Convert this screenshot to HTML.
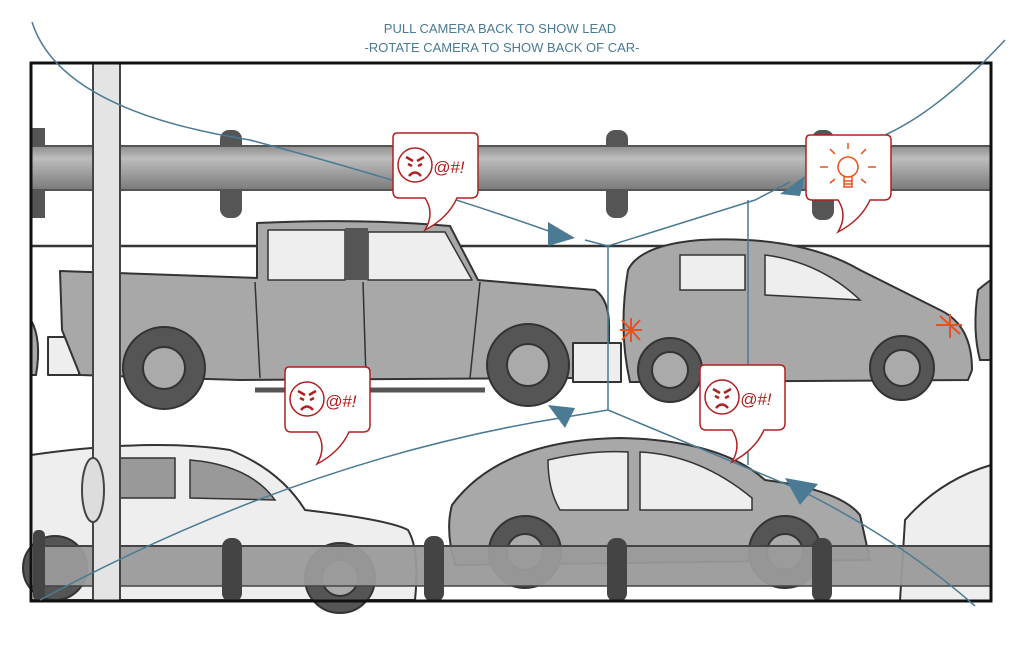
<!DOCTYPE html>
<html><head><meta charset="utf-8"><style>
html,body{margin:0;padding:0;background:#fff;width:1022px;height:662px;overflow:hidden}
svg{display:block}
</style></head><body>
<svg width="1022" height="662" viewBox="0 0 1022 662" xmlns="http://www.w3.org/2000/svg">
<defs>
<linearGradient id="rail" x1="0" y1="0" x2="0" y2="1">
<stop offset="0" stop-color="#8a8a8a"/><stop offset="0.3" stop-color="#bdbdbd"/><stop offset="0.6" stop-color="#a0a0a0"/><stop offset="1" stop-color="#7a7a7a"/>
</linearGradient>
<g id="bubble">
<path d="M4,0 H80 Q85,0 85,5 V58 Q85,65 78,65 H64 Q55,85 32,97 Q42,80 32,65 H6 Q0,65 0,58 V5 Q0,0 4,0 Z" fill="#fff" stroke="#b02020" stroke-width="1.5"/>
</g>
<g id="angry">
<use href="#bubble"/>
<circle cx="22" cy="32" r="17" fill="#fff" stroke="#b02020" stroke-width="1.5"/>
<path d="M13,24 L20,28 M31,24 L24,28" stroke="#b02020" stroke-width="2.5"/>
<path d="M15,31 L19,33 M29,31 L25,33" stroke="#b02020" stroke-width="2.5"/>
<path d="M16,43 Q22,36 28,43" stroke="#b02020" stroke-width="2.5" fill="none"/>
<text x="40" y="40" font-family="Liberation Sans, sans-serif" font-size="17" fill="#b02020" font-style="italic">@#!</text>
</g>
</defs>

<!-- top rail -->
<g>
<rect x="220" y="130" width="22" height="88" rx="9" fill="#555"/>
<rect x="606" y="130" width="22" height="88" rx="9" fill="#555"/>
<rect x="812" y="130" width="22" height="90" rx="9" fill="#555"/>
<rect x="31" y="128" width="14" height="90" fill="#555"/>
<rect x="31" y="145" width="960" height="45" fill="url(#rail)"/>
<line x1="31" y1="146" x2="991" y2="146" stroke="#555" stroke-width="2"/>
<line x1="31" y1="190" x2="991" y2="190" stroke="#555" stroke-width="2"/>
</g>

<!-- horizontal line -->
<line x1="31" y1="246" x2="991" y2="246" stroke="#333" stroke-width="2.5"/>

<!-- truck -->
<g stroke="#333" stroke-width="2" stroke-linejoin="round">
<rect x="48" y="337" width="31" height="38" fill="#eee"/>
<path d="M60,271 L257,278 L257,223 Q360,218 450,226 L478,280 L595,290 Q610,300 609,330 L609,372 L572,378 L240,380 L80,375 L62,330 Z" fill="#a8a8a8"/>
<path d="M268,230 H345 V280 H268 Z" fill="#eee" stroke-width="1.5"/>
<path d="M368,232 H445 L472,280 H368 Z" fill="#eee" stroke-width="1.5"/>
<rect x="345" y="228" width="23" height="52" fill="#555" stroke="none"/>
<path d="M363,282 L366,378 M255,282 L260,378 M480,282 L470,378" fill="none" stroke-width="1.5"/>
<rect x="573" y="343" width="48" height="39" fill="#eee"/>
<path d="M255,390 H485" stroke="#555" stroke-width="5"/>
<circle cx="164" cy="368" r="41" fill="#555"/>
<circle cx="164" cy="368" r="21" fill="#aaa"/>
<circle cx="528" cy="365" r="41" fill="#555"/>
<circle cx="528" cy="365" r="21" fill="#aaa"/>
</g>

<!-- small car right -->
<g stroke="#333" stroke-width="2">
<path d="M628,270 Q640,245 700,240 Q800,235 860,270 L940,310 Q972,325 972,370 L968,380 L630,382 Q618,330 628,270 Z" fill="#a8a8a8"/>
<path d="M680,255 H745 V290 H680 Z" fill="#eee" stroke-width="1.5"/>
<path d="M765,255 Q820,262 860,300 L765,295 Z" fill="#eee" stroke-width="1.5"/>
<circle cx="670" cy="370" r="32" fill="#555"/>
<circle cx="670" cy="370" r="18" fill="#aaa"/>
<circle cx="902" cy="368" r="32" fill="#555"/>
<circle cx="902" cy="368" r="18" fill="#aaa"/>
<path d="M978,290 Q990,280 991,280 V360 H980 Q972,330 978,290 Z" fill="#a8a8a8"/>
<path d="M31,320 Q42,340 36,375 H31 Z" fill="#a8a8a8"/>
</g>
<g stroke="#e8501c" stroke-width="2">
<path d="M620,330 L642,330 M631,318 L631,342 M622,320 L640,340 M640,320 L622,340"/>
<path d="M936,325 L962,325 M950,314 L950,338 M940,316 L960,334"/>
</g>

<!-- bottom left white car -->
<g stroke="#333" stroke-width="2">
<path d="M31,455 Q150,438 230,450 Q280,470 305,510 Q390,520 408,530 Q420,550 415,600 H31 Z" fill="#eee"/>
<path d="M120,458 H175 V498 H120 Z M190,460 Q250,465 275,500 L190,498 Z" fill="#999" stroke-width="1.5"/>
<circle cx="55" cy="568" r="32" fill="#555"/>
<circle cx="340" cy="578" r="35" fill="#555"/>
<circle cx="340" cy="578" r="18" fill="#aaa"/>
</g>
<!-- bottom middle gray car -->
<g stroke="#333" stroke-width="2">
<path d="M452,505 Q500,440 620,438 Q720,440 765,480 Q840,490 860,515 L870,560 L455,565 Q445,530 452,505 Z" fill="#a8a8a8"/>
<path d="M548,460 Q590,450 628,452 V510 H560 Q548,490 548,460 Z" fill="#eee" stroke-width="1.5"/>
<path d="M640,452 Q700,455 752,498 V510 H640 Z" fill="#eee" stroke-width="1.5"/>
<circle cx="525" cy="552" r="36" fill="#555"/>
<circle cx="525" cy="552" r="18" fill="#aaa"/>
<circle cx="785" cy="552" r="36" fill="#555"/>
<circle cx="785" cy="552" r="18" fill="#aaa"/>
</g>
<path d="M905,520 Q940,480 991,465 V601 H900 Z" fill="#eee" stroke="#333" stroke-width="2"/>

<!-- bottom rail -->
<g>
<rect x="31" y="546" width="960" height="40" fill="#9a9a9a" opacity="0.95"/>
<line x1="31" y1="546" x2="991" y2="546" stroke="#444" stroke-width="2"/>
<line x1="31" y1="586" x2="991" y2="586" stroke="#444" stroke-width="1.5"/>
<rect x="222" y="538" width="20" height="64" rx="9" fill="#444"/>
<rect x="424" y="536" width="20" height="66" rx="9" fill="#444"/>
<rect x="607" y="538" width="20" height="64" rx="9" fill="#444"/>
<rect x="812" y="538" width="20" height="64" rx="9" fill="#444"/>
<rect x="33" y="530" width="12" height="71" rx="5" fill="#444"/>
</g>

<!-- pole -->
<rect x="93" y="63" width="27" height="538" fill="#e4e4e4"/>
<line x1="93" y1="63" x2="93" y2="601" stroke="#444" stroke-width="2"/>
<line x1="120" y1="63" x2="120" y2="601" stroke="#444" stroke-width="2"/>
<ellipse cx="93" cy="490" rx="11" ry="32" fill="#ddd" stroke="#444" stroke-width="2"/>

<!-- frame -->
<rect x="31" y="63" width="960" height="538" fill="none" stroke="#111" stroke-width="3"/>

<!-- blue camera lines -->
<g stroke="#4a7a94" stroke-width="1.5" fill="none">
<path d="M32,22 Q60,110 250,140 Q420,185 560,235"/>
<path d="M585,240 L608,246 L755,200 L790,182"/>
<path d="M1005,40 Q940,110 885,135"/>
<line x1="608" y1="246" x2="608" y2="410"/>
<line x1="748" y1="200" x2="748" y2="465"/>
<path d="M608,410 L560,418 Q300,460 40,600"/>
<path d="M608,410 L800,490 Q900,540 975,606"/>
</g>
<g fill="#4a7a94">
<path d="M575,238 L548,222 L548,246 Z"/>
<path d="M805,176 L780,194 L800,196 Z"/>
<path d="M548,405 L575,408 L565,428 Z"/>
<path d="M785,478 L818,484 L800,505 Z"/>
</g>

<!-- bubbles -->
<use href="#angry" x="393" y="133"/>
<use href="#angry" x="285" y="367"/>
<use href="#angry" x="700" y="365"/>
<g transform="translate(806,135)">
<use href="#bubble"/>
<g stroke="#e8501c" stroke-width="1.5" fill="none">
<circle cx="42" cy="32" r="10"/>
<path d="M38,42 V52 H46 V42 M38,46 H46 M38,49 H46"/>
<path d="M42,8 V14 M24,14 L29,19 M60,14 L55,19 M14,32 H22 M62,32 H70 M24,48 L29,44 M60,48 L55,44"/>
</g>
</g>

<!-- caption -->
<g font-family="Liberation Sans Narrow, Liberation Sans, sans-serif" font-size="13" fill="#4a7a94" text-anchor="middle">
<text x="500" y="33">PULL CAMERA BACK TO SHOW LEAD</text>
<text x="502" y="52">-ROTATE CAMERA TO SHOW BACK OF CAR-</text>
</g>
</svg>
</body></html>
